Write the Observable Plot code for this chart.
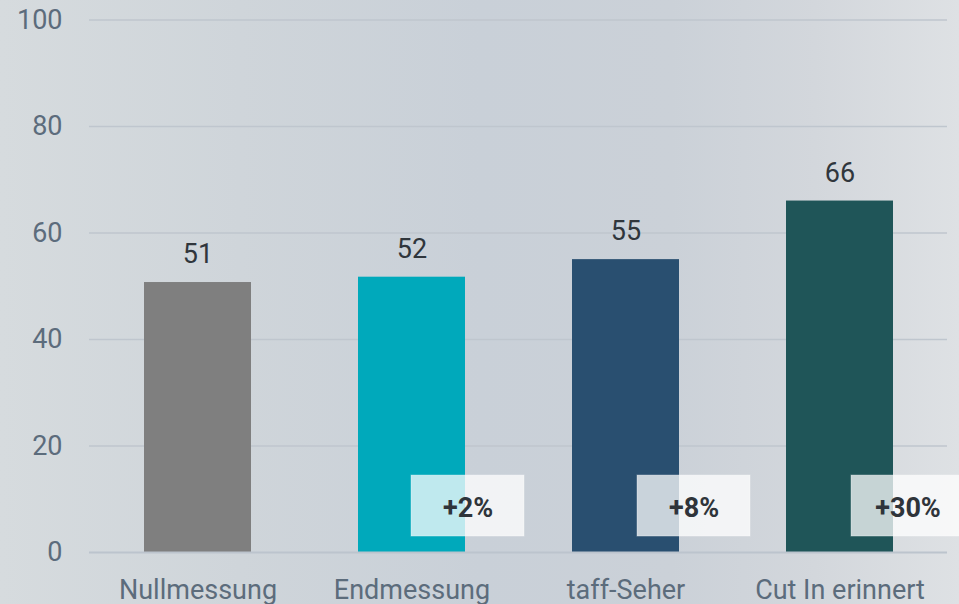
<!DOCTYPE html>
<html>
<head>
<meta charset="utf-8">
<script src="https://cdn.jsdelivr.net/npm/d3@7"></script>
<script src="https://cdn.jsdelivr.net/npm/@observablehq/plot@0.6"></script>
<style>
  html, body { margin: 0; padding: 0; }
  body { width: 959px; height: 604px; overflow: hidden;
    background: linear-gradient(to right, #d6dbde 0%, #cfd5da 25%, #c9d0d8 50%, #cbd1d8 70%, #d3d7dc 85%, #dee1e4 100%); }
</style>
</head>
<body>
<div id="chart"></div>
<script>
const categories = ["Nullmessung", "Endmessung", "taff-Seher", "Cut In erinnert"];
const values = [50.7, 51.7, 55.0, 66.0];
const valueLabels = ["51", "52", "55", "66"];
const colors = ["#7f7f7f", "#00a9bb", "#294f70", "#1f5558"];
const deltaCategories = ["Endmessung", "taff-Seher", "Cut In erinnert"];
const deltaLabels = ["+2%", "+8%", "+30%"];
const yTicks = [0, 20, 40, 60, 80, 100];

const bars = categories.map((c, i) => ({category: c, value: values[i], label: valueLabels[i], color: colors[i]}));
const deltas = deltaCategories.map((c, i) => ({category: c, label: deltaLabels[i]}));
const isFirst = d => d.category === deltaCategories[0];
const isRest = d => d.category !== deltaCategories[0];

const boxStyle = {x: "category", y1: 3, y2: 14.45, insetRight: -6, fill: "white", fillOpacity: 0.75, stroke: "white", strokeOpacity: 0.35};
const deltaText = {x: "category", y: 8.2, text: "label", fill: "#2f343a", fontSize: 27, fontWeight: "bold"};

const chart = Plot.plot({
  width: 959,
  height: 604,
  marginLeft: 89,
  marginRight: 12,
  marginTop: 19.5,
  marginBottom: 52,
  style: {background: "transparent", fontFamily: "Roboto, sans-serif", fontSize: "27px"},
  x: {domain: categories, paddingInner: 0.5, paddingOuter: 0.25, label: null},
  y: {domain: [0, 100], label: null},
  marks: [
    Plot.ruleY(yTicks.filter(t => t > 0), {stroke: "#bfc6ce", strokeWidth: 1.3}),
    Plot.barY(bars, {x: "category", y: "value", fill: "color"}),
    Plot.ruleY([0], {stroke: "#bcc4cd", strokeWidth: 2}),
    Plot.text(bars, {x: "category", y: "value", text: "label", dy: -28, fill: "#30363c", fontSize: 27}),
    Plot.barY(deltas, {...boxStyle, filter: isFirst, dx: 53}),
    Plot.barY(deltas, {...boxStyle, filter: isRest, dx: 65}),
    Plot.text(deltas, {...deltaText, filter: isFirst, dx: 56}),
    Plot.text(deltas, {...deltaText, filter: isRest, dx: 68}),
    Plot.axisY({ticks: yTicks, tickSize: 0, tickPadding: 27, fontSize: 27, color: "#5c6c7c", label: null}),
    Plot.axisX({tickSize: 0, tickPadding: 27, fontSize: 27, color: "#5c6c7c", label: null})
  ]
});
document.getElementById("chart").appendChild(chart);
</script>
</body>
</html>
